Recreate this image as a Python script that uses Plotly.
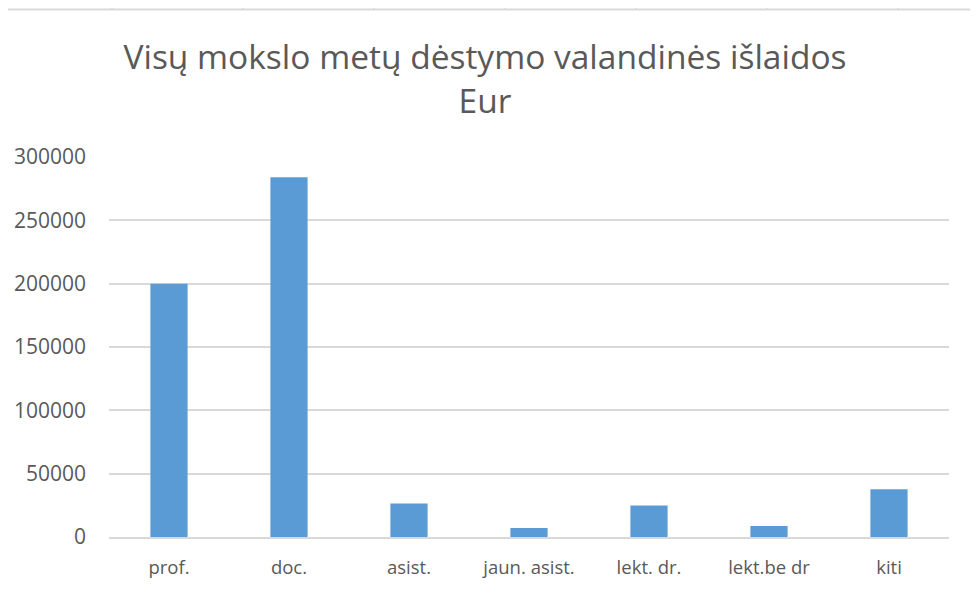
import plotly.graph_objects as go

categories = ["prof.", "doc.", "asist.", "jaun. asist.", "lekt. dr.", "lekt.be dr", "kiti"]
values = [200000, 284000, 26500, 7100, 24800, 8700, 37700]
y_ticks = [0, 50000, 100000, 150000, 200000, 250000, 300000]

# page body has an 8px offset; compensate so the figure lands like the reference
OFF = 8
W, H = 978 - OFF, 596 - OFF
L, R, T, B = 109 - OFF, 978 - 949, 157 - OFF, 596 - 537
pw, ph = W - L - R, H - T - B

def px_x(x):
    return (x - OFF - L) / pw

def px_y(y):
    return (H - B - (y - OFF)) / ph

fig = go.Figure(go.Bar(
    x=categories, y=values,
    marker=dict(color="#5B9BD5", line=dict(width=0)),
    width=0.31,
))

shapes = [dict(type="line", xref="paper", yref="paper",
               x0=px_x(7), x1=px_x(990), y0=px_y(9.5), y1=px_y(9.5),
               line=dict(color="#D9D9D9", width=2))]
for tx in [112, 243, 374, 505, 636, 767, 898]:
    shapes.append(dict(type="line", xref="paper", yref="paper",
                       x0=px_x(tx), x1=px_x(tx), y0=px_y(2), y1=px_y(9.5),
                       line=dict(color="#D9D9D9", width=1.5)))

fig.update_layout(
    width=W, height=H,
    margin=dict(l=L, r=R, t=T, b=B, autoexpand=False),
    paper_bgcolor="white", plot_bgcolor="white",
    font=dict(family="Open Sans", color="#595959"),
    title=dict(text="Visų mokslo metų dėstymo valandinės išlaidos<br>Eur",
               x=(485 - OFF) / W, xanchor="center", y=1 - (69 - OFF) / H, yanchor="middle",
               font=dict(size=33.5, color="#595959", family="Open Sans")),
    showlegend=False,
    shapes=shapes,
)
fig.update_yaxes(range=[0, 300000], tickvals=y_ticks, ticktext=[str(v) for v in y_ticks],
                 showgrid=True, gridcolor="#D9D9D9", gridwidth=1.5,
                 zeroline=False, showline=False, automargin=False,
                 tickfont=dict(size=21, color="#595959"), ticklabelstandoff=22)
fig.update_xaxes(showline=True, linecolor="#D9D9D9", linewidth=1.5, automargin=False,
                 tickfont=dict(size=18.5, color="#595959"), ticklabelstandoff=13)

fig.write_html("out.html")
